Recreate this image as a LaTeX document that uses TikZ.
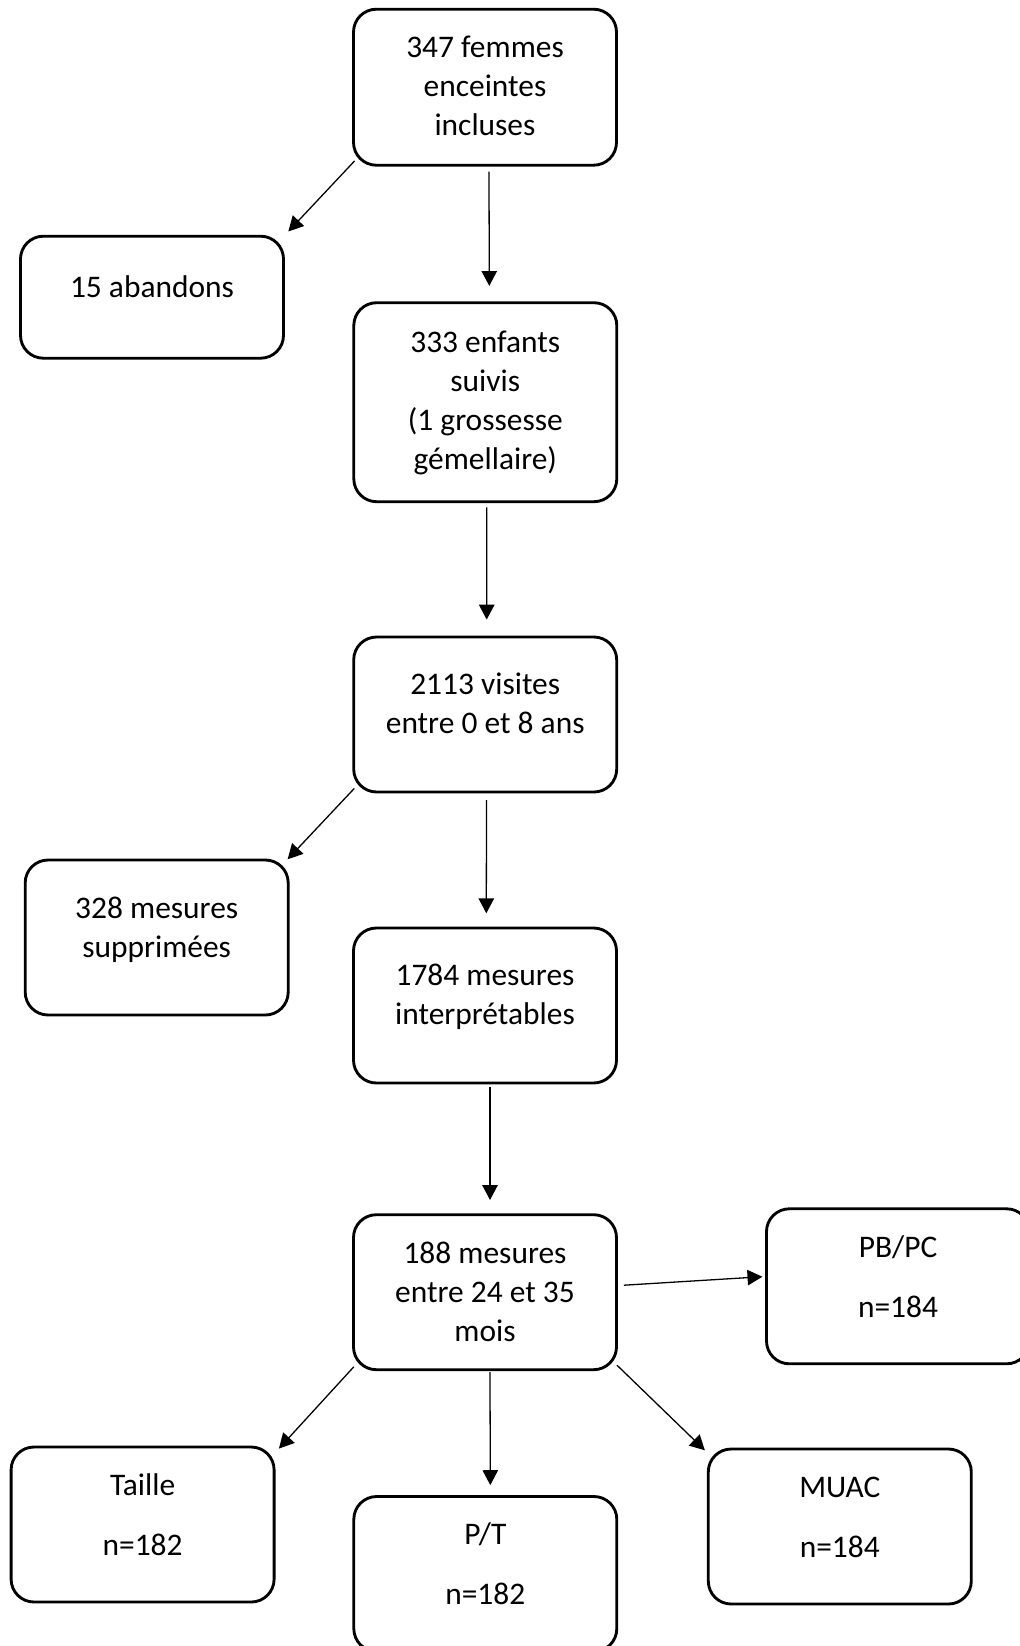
\documentclass[tikz,border=0pt]{standalone}
\usepackage{fontspec}
\setmainfont{Carlito}
\usetikzlibrary{arrows.meta,calc}
\newlength{\pxu}
\setlength{\pxu}{0.35pt}
\newcommand{\boxtext}[3]{\parbox[c][#1\pxu][t]{263\pxu}{\centering\rule{0pt}{#2\pxu}#3}}

\begin{document}
\begin{tikzpicture}[x=0.35pt,y=-0.35pt,
    box/.style={draw,line width=1pt,rounded corners=8pt,inner sep=0pt},
    arr/.style={-{Triangle[length=5.2pt,width=5.4pt]},line width=0.45pt},
    font=\fontsize{11}{13.65}\selectfont]
\useasboundingbox (0,0) rectangle (1020,1646);
\node[box] (femmes) at (485,87.2) {\boxtext{156}{48.5}{347 femmes\\enceintes\\incluses}};
\node[box] (abandons) at (152,297.2) {\boxtext{122}{61}{15 abandons}};
\node[box] (enfants) at (485.3,402.2) {\boxtext{199}{49.3}{333 enfants\\suivis\\(1 grossesse\\gémellaire)}};
\node[box] (visites) at (485.2,714.5) {\boxtext{155}{57.5}{2113 visites\\entre 0 et 8 ans}};
\node[box] (supprimees) at (156.7,937.5) {\boxtext{155}{58}{328 mesures\\supprimées}};
\node[box] (interp) at (485,1005.5) {\boxtext{155}{57.7}{1784 mesures\\interprétables}};
\node[box] (mesures) at (485,1292.2) {\boxtext{155}{48.7}{188 mesures\\entre 24 et 35\\mois}};
\node[box] (pbpc) at (898,1286.3) {\boxtext{155}{48.7}{PB/PC\\[7.35pt]n=184}};
\node[box] (taille) at (142.6,1524.5) {\boxtext{155}{48.3}{Taille\\[7.35pt]n=182}};
\node[box] (pt) at (485.3,1574) {\boxtext{155}{48.3}{P/T\\[7.35pt]n=182}};
\node[box] (muac) at (839.8,1526.5) {\boxtext{155}{48}{MUAC\\[7.35pt]n=184}};

\draw[arr] ($(femmes.south west)+(2.5,-5.7)$) -- ($(abandons.north east)+(3.4,-3.3)$);
\draw[arr] ($(femmes.south)+(4,5)$) -- ($(enfants.north)+(4,-15.4)$);
\draw[arr] ($(enfants.south)+(1.5,4.3)$) -- ($(visites.north)+(1.5,-16)$);
\draw[arr] ($(visites.south west)+(2,-5)$) -- ($(supprimees.north east)+(-2,0.7)$);
\draw[arr] ($(visites.south)+(1.3,6.6)$) -- ($(interp.north)+(1.3,-13.3)$);
\draw[arr] ($(interp.south)+(5,2.3)$) -- ($(mesures.north)+(5,-13.3)$);
\draw[arr] ($(mesures.east)+(6,-7)$) -- ($(pbpc.west)+(-2.7,-9.6)$);
\draw[arr] ($(mesures.south west)+(1.7,-4.3)$) -- ($(taille.north east)+(3.4,3)$);
\draw[arr] ($(mesures.south)+(5,1)$) -- ($(pt.north)+(5,-10)$);
\draw[arr] ($(mesures.south east)+(-1,-6)$) -- ($(muac.north west)+(-2,2.7)$);
\end{tikzpicture}
\end{document}
